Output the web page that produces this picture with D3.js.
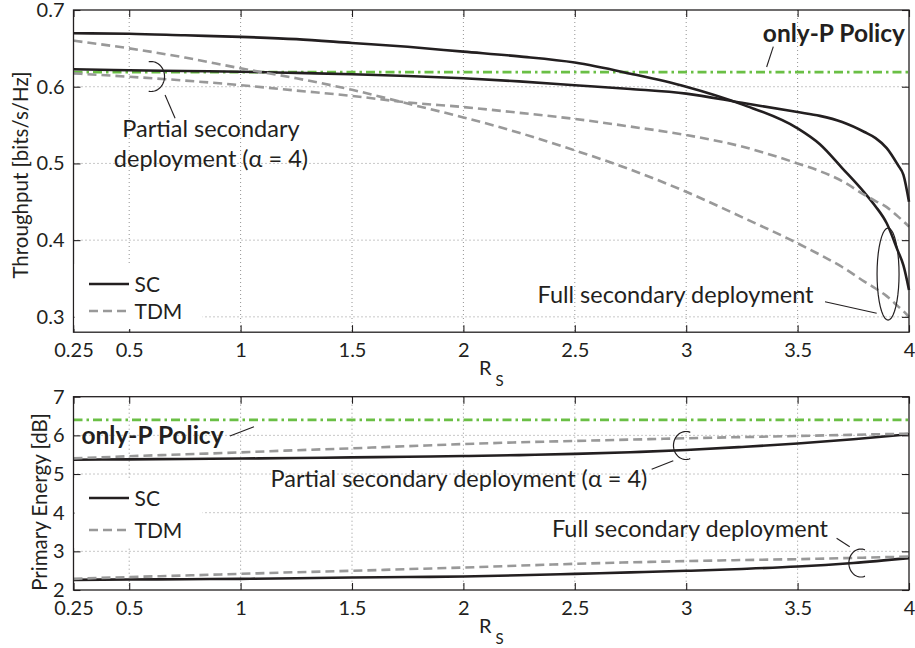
<!DOCTYPE html>
<html><head><meta charset="utf-8">
<script src="https://cdn.jsdelivr.net/npm/d3@7"></script>
<style>
body{margin:0;background:#fff}
text{font-family:Lato,"Open Sans",sans-serif;fill:#231f20}
</style>
</head><body>
<svg id="c" width="915" height="648"></svg>
<script>
// ---------- data ----------
const xTicks = [0.25, 0.5, 1, 1.5, 2, 2.5, 3, 3.5, 4];
const xTickLabels = ["0.25", "0.5", "1", "1.5", "2", "2.5", "3", "3.5", "4"];
const yTicksTop = [0.3, 0.4, 0.5, 0.6, 0.7];
const yTickLabelsTop = ["0.3", "0.4", "0.5", "0.6", "0.7"];
const yTicksBot = [2, 3, 4, 5, 6, 7];
const yTickLabelsBot = ["2", "3", "4", "5", "6", "7"];

const rsTop = [0.25, 0.5, 0.75, 1, 1.25, 1.5, 1.75, 2, 2.25, 2.5, 2.75, 3, 3.25, 3.5, 3.6, 3.7, 3.8, 3.85, 3.9, 3.95, 3.975, 4];
const thrFullSC     = [0.6696, 0.669, 0.667, 0.665, 0.662, 0.657, 0.652, 0.6457, 0.6395, 0.6315, 0.617, 0.600, 0.577, 0.5457, 0.525, 0.494, 0.462, 0.444, 0.422, 0.386, 0.367, 0.335];
const thrPartialSC  = [0.6227, 0.6215, 0.6205, 0.6196, 0.618, 0.6163, 0.614, 0.611, 0.607, 0.602, 0.597, 0.591, 0.579, 0.567, 0.562, 0.554, 0.541, 0.533, 0.520, 0.498, 0.485, 0.450];
const thrFullTDM    = [0.660, 0.650, 0.638, 0.624, 0.611, 0.596, 0.578, 0.560, 0.540, 0.517, 0.492, 0.463, 0.430, 0.3959, 0.381, 0.365, 0.346, 0.337, 0.327, 0.314, 0.3075, 0.300];
const thrPartialTDM = [0.6174, 0.613, 0.608, 0.602, 0.595, 0.588, 0.5795, 0.5735, 0.566, 0.558, 0.548, 0.537, 0.522, 0.500, 0.490, 0.477, 0.459, 0.451, 0.443, 0.431, 0.4245, 0.4175];
const thrOnlyP = 0.619;

const rsBot = [0.25, 0.5, 0.75, 1, 1.25, 1.5, 1.75, 2, 2.25, 2.5, 2.75, 3, 3.25, 3.5, 3.75, 4];
const enPartialSC  = [5.37, 5.38, 5.39, 5.40, 5.415, 5.43, 5.447, 5.465, 5.49, 5.52, 5.565, 5.62, 5.70, 5.79, 5.90, 6.03];
const enPartialTDM = [5.405, 5.46, 5.51, 5.56, 5.615, 5.665, 5.72, 5.775, 5.82, 5.855, 5.89, 5.925, 5.955, 5.984, 6.015, 6.045];
const enFullSC     = [2.263, 2.272, 2.28, 2.289, 2.305, 2.322, 2.335, 2.349, 2.38, 2.418, 2.455, 2.496, 2.545, 2.607, 2.70, 2.824];
const enFullTDM    = [2.289, 2.335, 2.375, 2.418, 2.46, 2.496, 2.54, 2.581, 2.63, 2.677, 2.715, 2.747, 2.775, 2.798, 2.83, 2.865];
const enOnlyP = 6.40;

const legendLabels = ["SC", "TDM"];

// ---------- styles ----------
const INK = "#231f20", GRAY = "#999999", GREEN = "#6abf45";
const svg = d3.select("#c");
svg.append("rect").attr("width", 915).attr("height", 648).attr("fill", "#fff");

function panel(o) {
  const g = svg.append("g");
  const x = d3.scaleLinear().domain([0.25, 4]).range([o.left, o.right]);
  const y = d3.scaleLinear().domain(o.ydom).range([o.bottom, o.top]);
  // grid
  const grid = g.append("g").attr("stroke", "#555").attr("stroke-width", 0.9)
    .attr("stroke-dasharray", "1,3").attr("opacity", 0.7);
  xTicks.filter(t => t > 0.25 && t < 4).forEach(t => {
    grid.append("line").attr("x1", x(t)).attr("x2", x(t)).attr("y1", o.top).attr("y2", o.bottom);
  });
  o.yticks.filter(t => t > o.ydom[0] && t < o.ydom[1]).forEach(t => {
    grid.append("line").attr("x1", o.left).attr("x2", o.right).attr("y1", y(t)).attr("y2", y(t));
  });
  // only-P line
  g.append("line").attr("x1", o.left).attr("x2", o.right)
    .attr("y1", y(o.onlyP)).attr("y2", y(o.onlyP))
    .attr("stroke", GREEN).attr("stroke-width", 2.6).attr("stroke-dasharray", "9,4,2.5,4");
  // series
  const line = d3.line().x((d, i) => x(o.xs[i])).y(d => y(d)).curve(d3.curveMonotoneX);
  o.series.forEach(s => {
    g.append("path").attr("d", line(s.v)).attr("fill", "none")
      .attr("stroke", s.tdm ? GRAY : INK).attr("stroke-width", 2.6)
      .attr("stroke-dasharray", s.tdm ? "9,5" : null);
  });
  // axes
  const ax = d3.axisBottom(x).tickValues(xTicks).tickFormat((d, i) => xTickLabels[i])
    .tickSizeInner(-7).tickSizeOuter(0).tickPadding(11);
  g.append("g").attr("transform", `translate(0,${o.bottom})`).call(ax);
  g.append("g").attr("transform", `translate(0,${o.top})`)
    .call(d3.axisTop(x).tickValues(xTicks).tickFormat("").tickSizeInner(-7).tickSizeOuter(0));
  const ayL = d3.axisLeft(y).tickValues(o.yticks).tickFormat((d, i) => o.ylabels[i])
    .tickSizeInner(-7).tickSizeOuter(0).tickPadding(9);
  g.append("g").attr("transform", `translate(${o.left},0)`).call(ayL);
  g.append("g").attr("transform", `translate(${o.right},0)`)
    .call(d3.axisRight(y).tickValues(o.yticks).tickFormat("").tickSizeInner(-7).tickSizeOuter(0));
  g.selectAll(".domain").remove();
  g.selectAll(".tick line").attr("stroke", INK).attr("stroke-width", 1.1);
  g.selectAll(".tick text").attr("font-size", 20).attr("font-family", "Lato").attr("fill", INK);
  g.append("rect").attr("x", o.left).attr("y", o.top).attr("width", o.right - o.left)
    .attr("height", o.bottom - o.top).attr("fill", "none").attr("stroke", INK).attr("stroke-width", 1.3);
  // x label R_S
  const xl = g.append("text").attr("x", x(2.07)).attr("y", o.bottom + 43).attr("font-size", 20);
  xl.append("tspan").text("R");
  xl.append("tspan").attr("dx", 4).attr("dy", 11).attr("font-size", 15).text("S");
  // y label
  g.append("text").attr("transform", `translate(${o.ylabX},${o.ylabY}) rotate(-90)`)
    .attr("text-anchor", "middle").attr("font-size", 20.5).text(o.ylabel);
  return {g, x, y};
}

function leader(P, a, b) {
  P.g.append("line").attr("x1", P.x(a[0])).attr("y1", P.y(a[1]))
    .attr("x2", P.x(b[0])).attr("y2", P.y(b[1])).attr("stroke", INK).attr("stroke-width", 1.1);
}
function arc(P, c, rx, ry, a0, a1) {
  const cx = P.x(c[0]), cy = P.y(c[1]);
  const pts = d3.range(0, 41).map(i => {
    const t = (a0 + (a1 - a0) * i / 40) * Math.PI / 180;
    return [cx + rx * Math.cos(t), cy + ry * Math.sin(t)];
  });
  P.g.append("path").attr("d", d3.line()(pts)).attr("fill", "none")
    .attr("stroke", INK).attr("stroke-width", 1.2);
}
function label(P, pos, txt, opts = {}) {
  return P.g.append("text").attr("x", P.x(pos[0])).attr("y", P.y(pos[1]))
    .attr("text-anchor", "middle").attr("font-size", opts.size || 23.5)
    .attr("font-weight", opts.bold ? "bold" : null).text(txt);
}
function legend(P, x0, yA, yB) {
  P.g.append("rect").attr("x", x0 + 1).attr("y", yA - 20).attr("width", 128).attr("height", yB - yA + 38).attr("fill", "#fff");
  [[yA, false], [yB, true]].forEach(([yy, tdm], i) => {
    P.g.append("line").attr("x1", x0 + 15.5).attr("x2", x0 + 55.5).attr("y1", yy).attr("y2", yy)
      .attr("stroke", tdm ? GRAY : INK).attr("stroke-width", 2.6).attr("stroke-dasharray", tdm ? "9,5" : null);
    P.g.append("text").attr("x", x0 + 61).attr("y", yy + 7.5).attr("font-size", 21).text(legendLabels[i]);
  });
}

// ---------- top panel ----------
const T = panel({
  left: 73.5, right: 909, top: 10, bottom: 332.2, ydom: [0.28, 0.7],
  yticks: yTicksTop, ylabels: yTickLabelsTop, onlyP: thrOnlyP, xs: rsTop,
  ylabel: "Throughput [bits/s/Hz]", ylabX: 28, ylabY: 175,
  series: [
    {v: thrFullSC}, {v: thrPartialSC},
    {v: thrFullTDM, tdm: true}, {v: thrPartialTDM, tdm: true}
  ]
});
label(T, [3.663, 0.6587], "only-P Policy", {bold: true, size: 24.5});
leader(T, [3.391, 0.6522], [3.361, 0.6257]);
label(T, [0.867, 0.5349], "Partial secondary");
label(T, [0.867, 0.4957], "deployment (α = 4)");
arc(T, [0.598, 0.6133], 13.5, 15, -100, 100);
leader(T, [0.661, 0.5892], [0.706, 0.5588]);
label(T, [2.952, 0.3184], "Full secondary deployment");
leader(T, [3.623, 0.3197], [3.855, 0.3046]);
arc(T, [3.906, 0.3558], 11, 46, 0, 360);
legend(T, 73.5, 284, 311);

// ---------- bottom panel ----------
const B = panel({
  left: 73.5, right: 909, top: 396.7, bottom: 590, ydom: [2, 7],
  yticks: yTicksBot, ylabels: yTickLabelsBot, onlyP: enOnlyP, xs: rsBot,
  ylabel: "Primary Energy [dB]", ylabX: 47, ylabY: 502,
  series: [
    {v: enPartialSC}, {v: enFullSC},
    {v: enPartialTDM, tdm: true}, {v: enFullTDM, tdm: true}
  ]
});
label(B, [0.6046, 5.769], "only-P Policy", {bold: true, size: 24.5});
leader(B, [0.952, 5.983], [1.060, 6.224]);
label(B, [1.980, 4.657], "Partial secondary deployment (α = 4)");
leader(B, [2.845, 5.122], [2.942, 5.345]);
arc(B, [2.999, 5.738], 12.5, 14, -70, -290);
label(B, [3.017, 3.379], "Full secondary deployment");
leader(B, [3.675, 3.337], [3.734, 3.120]);
arc(B, [3.784, 2.698], 12, 14, -70, -290);
legend(B, 73.5, 498, 530);
</script>
</body></html>
